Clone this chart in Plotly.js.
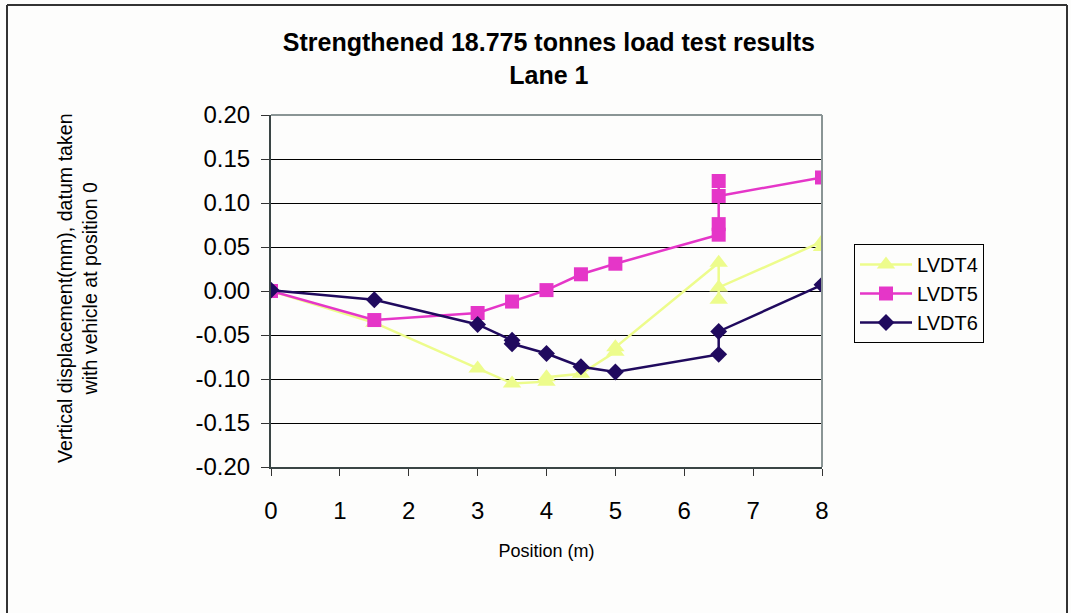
<!DOCTYPE html>
<html>
<head>
<meta charset="utf-8">
<script src="https://cdn.plot.ly/plotly-3.0.1.min.js"></script>
<style>
  html, body { margin: 0; padding: 0; background: #fdfdfc; }
  #chart { width: 1071px; height: 613px; }
</style>
</head>
<body>
<div id="chart"></div>
<script>
// ---- Data ----
const seriesNames = ["LVDT4", "LVDT5", "LVDT6"];

const xLVDT4 = [0, 1.5, 3, 3.5, 4, 4, 4.5, 5, 5, 6.5, 6.5, 6.5, 8, 8];
const yLVDT4 = [0, -0.036, -0.088, -0.105, -0.103, -0.098, -0.094, -0.069, -0.064, 0.032, -0.010, 0.004, 0.056, 0.050];

const xLVDT5 = [0, 1.5, 3, 3.5, 4, 4.5, 5, 6.5, 6.5, 6.5, 6.5, 8];
const yLVDT5 = [0, -0.033, -0.025, -0.012, 0.001, 0.019, 0.031, 0.064, 0.076, 0.125, 0.108, 0.129];

const xLVDT6 = [0, 1.5, 3, 3.5, 3.5, 4, 4.5, 5, 6.5, 6.5, 8];
const yLVDT6 = [0.001, -0.010, -0.038, -0.056, -0.060, -0.071, -0.086, -0.092, -0.072, -0.046, 0.007];

const xTickVals = [0, 1, 2, 3, 4, 5, 6, 7, 8];
const xTickText = ["0", "1", "2", "3", "4", "5", "6", "7", "8"];
const yTickVals = [-0.20, -0.15, -0.10, -0.05, 0.00, 0.05, 0.10, 0.15, 0.20];
const yTickText = ["-0.20", "-0.15", "-0.10", "-0.05", "0.00", "0.05", "0.10", "0.15", "0.20"];

const titleText = "Strengthened 18.775 tonnes load test results<br>Lane 1";
const xTitleText = "Position (m)";
const yTitleText = "Vertical displacement(mm), datum taken<br>with vehicle at position 0";

// ---- Styles ----
const FONT = "Liberation Sans, Arial, Helvetica, sans-serif";

const traces = [
  {
    x: xLVDT4, y: yLVDT4, name: seriesNames[0], type: "scatter", mode: "lines+markers",
    line: { color: "#EDFC8C", width: 2.5 },
    marker: { symbol: "triangle-up", size: 16, color: "#EDFC8C" }
  },
  {
    x: xLVDT5, y: yLVDT5, name: seriesNames[1], type: "scatter", mode: "lines+markers",
    line: { color: "#E536C8", width: 2.5 },
    marker: { symbol: "square", size: 14, color: "#E536C8" }
  },
  {
    x: xLVDT6, y: yLVDT6, name: seriesNames[2], type: "scatter", mode: "lines+markers",
    line: { color: "#200A5E", width: 2.5 },
    marker: { symbol: "diamond", size: 13, color: "#200A5E" }
  }
];

const layout = {
  width: 1071,
  height: 613,
  paper_bgcolor: "#fdfdfc",
  plot_bgcolor: "#fdfdfc",
  margin: { l: 271, r: 249, t: 115, b: 146, pad: 0 },
  font: { family: FONT, color: "#000" },
  showlegend: true,
  title: {
    text: titleText,
    font: { family: FONT, size: 25, color: "#000", weight: "bold" },
    x: 0.5125, xanchor: "center",
    yref: "container", y: 1 - 51 / 613, yanchor: "top"
  },
  xaxis: {
    range: [0, 8],
    tickmode: "array", tickvals: xTickVals, ticktext: xTickText,
    ticks: "outside", ticklen: 7, tickwidth: 1, tickcolor: "#333",
    tickfont: { family: FONT, size: 24, color: "#000" },
    ticklabelstandoff: 14,
    showline: true, linecolor: "#3a4545", linewidth: 2,
    showgrid: false, zeroline: false, fixedrange: true,
    automargin: false,
    title: { text: xTitleText, font: { family: FONT, size: 18, color: "#000" }, standoff: 22 }
  },
  yaxis: {
    range: [-0.2, 0.2],
    tickmode: "array", tickvals: yTickVals, ticktext: yTickText,
    ticks: "outside", ticklen: 8, tickwidth: 1, tickcolor: "#333",
    tickfont: { family: FONT, size: 24, color: "#000" },
    ticklabelstandoff: 6,
    showline: true, linecolor: "#3a4545", linewidth: 2,
    showgrid: true, gridcolor: "#000", gridwidth: 1,
    zeroline: false, fixedrange: true,
    automargin: false,
    title: { text: "" }
  },
  legend: {
    x: (854 - 271) / 551, xanchor: "left",
    y: 1 - (244 - 115) / 352, yanchor: "top",
    bgcolor: "#fdfdfc", bordercolor: "#000", borderwidth: 1,
    font: { family: FONT, size: 20, color: "#000" },
    tracegroupgap: 0, itemwidth: 52
  },
  annotations: [
    {
      text: yTitleText, textangle: -90, showarrow: false,
      xref: "paper", yref: "paper",
      x: (77 - 271) / 551, y: 1 - (288 - 115) / 352,
      xanchor: "center", yanchor: "middle",
      font: { family: FONT, size: 19.6, color: "#000" }
    }
  ],
  shapes: [
    // grey plot frame top and right
    { type: "line", xref: "paper", yref: "paper", x0: 0, x1: 1, y0: 1, y1: 1, line: { color: "#8a9595", width: 2 } },
    { type: "line", xref: "paper", yref: "paper", x0: 1, x1: 1, y0: 0, y1: 1, line: { color: "#8a9595", width: 2 } },
    // outer chart frame (top, left, right)
    { type: "line", xref: "paper", yref: "paper", x0: (7 - 271) / 551, x1: (1067 - 271) / 551, y0: 1 + 110 / 352, y1: 1 + 110 / 352, line: { color: "#333", width: 2 } },
    { type: "line", xref: "paper", yref: "paper", x0: (7 - 271) / 551, x1: (7 - 271) / 551, y0: 1 + 110 / 352, y1: -0.45, line: { color: "#333", width: 2 } },
    { type: "line", xref: "paper", yref: "paper", x0: (1067 - 271) / 551, x1: (1067 - 271) / 551, y0: 1 + 110 / 352, y1: -0.45, line: { color: "#333", width: 2 } }
  ]
};

Plotly.newPlot("chart", traces, layout, { displayModeBar: false, staticPlot: true });
</script>
</body>
</html>
